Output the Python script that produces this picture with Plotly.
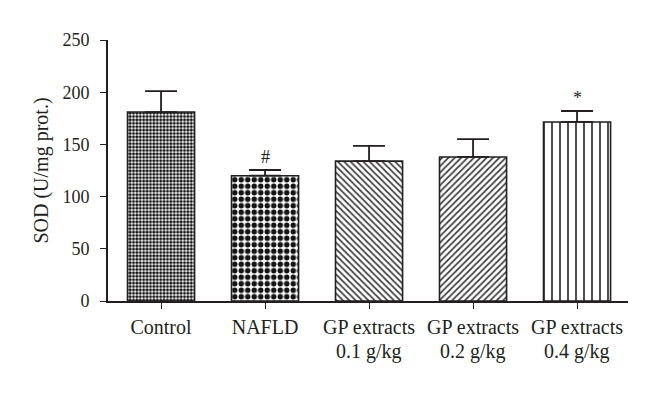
import plotly.graph_objects as go

categories = ["Control", "NAFLD", "GP extracts", "GP extracts", "GP extracts"]
doses = ["", "", "0.1 g/kg", "0.2 g/kg", "0.4 g/kg"]
sod_mean = [181, 120, 134, 138, 171.5]
sod_sd = [20, 5.5, 14.5, 17, 10.5]
sig_marks = ["", "#", "", "", "*"]

patterns = [
    dict(shape=".", size=3.4, solidity=0.62, fgcolor="#141414", bgcolor="white", fillmode="replace"),
    dict(shape=".", size=6.5, solidity=0.55, fgcolor="#141414", bgcolor="white", fillmode="replace"),
    dict(shape="\\", size=4.5, solidity=0.38, fgcolor="#3a3a3a", bgcolor="white", fillmode="replace"),
    dict(shape="/", size=4.5, solidity=0.38, fgcolor="#3a3a3a", bgcolor="white", fillmode="replace"),
    dict(shape="|", size=8, solidity=0.2, fgcolor="#222222", bgcolor="white", fillmode="replace"),
]

TXT = "#231f20"
FONT = "Liberation Serif"

xs = list(range(len(categories)))
fig = go.Figure()
for i in xs:
    fig.add_trace(go.Bar(
        x=[xs[i]], y=[sod_mean[i]], width=0.645,
        marker=dict(color="white", pattern=patterns[i], line=dict(color=TXT, width=1.6)),
        error_y=dict(type="data", array=[sod_sd[i]], arrayminus=[0], symmetric=False,
                     color=TXT, thickness=1.8, width=16),
        showlegend=False, hoverinfo="skip",
    ))

for i in xs:
    if sig_marks[i]:
        fig.add_annotation(x=xs[i], y=sod_mean[i] + sod_sd[i], text=sig_marks[i], showarrow=False,
                           yanchor="bottom", yshift=1, font=dict(family=FONT, size=18, color=TXT))
    if doses[i]:
        fig.add_annotation(x=xs[i], y=0, yref="paper", text=doses[i], showarrow=False,
                           yanchor="middle", yshift=-50, font=dict(family=FONT, size=20, color=TXT))

fig.update_layout(
    width=660, height=394,
    margin=dict(l=108, r=32, t=40, b=93),
    plot_bgcolor="white", paper_bgcolor="white",
    font=dict(family=FONT, size=19, color=TXT),
    barmode="overlay",
)
fig.update_xaxes(
    range=[-0.51, 4.49], tickvals=xs, ticktext=categories,
    showline=True, linecolor=TXT, linewidth=1.6,
    ticks="outside", ticklen=6, tickwidth=1.4, tickcolor=TXT,
    showgrid=False, zeroline=False, tickangle=0,
    tickfont=dict(family=FONT, size=20, color=TXT),
    ticklabelstandoff=1,
)
fig.update_yaxes(
    range=[0, 250], dtick=50,
    showline=True, linecolor=TXT, linewidth=1.6,
    ticks="outside", ticklen=6, tickwidth=1.4, tickcolor=TXT,
    showgrid=False, zeroline=False,
    tickfont=dict(family=FONT, size=18, color=TXT),
    title=dict(text="SOD (U/mg prot.)", standoff=9, font=dict(family=FONT, size=20, color=TXT)),
    ticklabelstandoff=7,
)
fig.write_html("out.html", post_script="document.body.style.margin='0px';",
               config={"displayModeBar": False})
